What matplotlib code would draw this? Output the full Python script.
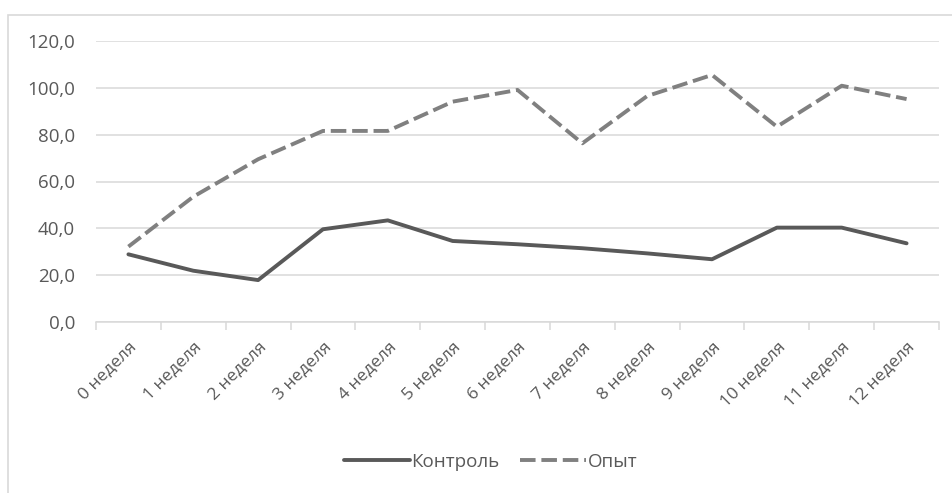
import matplotlib
matplotlib.use("Agg")
import matplotlib.pyplot as plt
from matplotlib.patches import Rectangle

plt.rcParams['font.family'] = ['Open Sans', 'DejaVu Sans']

weeks = [f"{i} неделя" for i in range(13)]
control = [28.9, 21.9, 17.9, 39.6, 43.4, 34.6, 33.2, 31.5, 29.3, 26.8, 40.3, 40.3, 33.6]
experiment = [32.2, 53.5, 69.5, 81.6, 81.6, 94.1, 99.1, 76.3, 96.5, 105.5, 83.4, 100.9, 95.2]
y_ticks = [0, 20, 40, 60, 80, 100, 120]

W, H = 953, 493
fig = plt.figure(figsize=(W / 100, H / 100), dpi=100)
ax = fig.add_axes([96 / W, 1 - 322 / H, (939 - 96) / W, (322 - 41) / H])

# chart frame (only left/top visible in the reference)
fig.patches.append(Rectangle((8.5 / W, -0.1), 1.2, 1 - 14.5 / H + 0.1,
                             transform=fig.transFigure, fill=False,
                             edgecolor="#d9d9d9", lw=1.2))

x = list(range(len(weeks)))
ax.plot(x, control, color="#595959", lw=2.8, solid_joinstyle="round",
        solid_capstyle="round", label="Контроль", zorder=3)
ax.plot(x, experiment, color="#808080", lw=2.8, dashes=(4, 1.5),
        dash_capstyle="butt", label="Опыт", zorder=3)

ax.set_xlim(-0.5, len(weeks) - 0.5)
ax.set_ylim(0, 120)
ax.set_yticks(y_ticks)
ax.set_yticklabels([f"{v:.1f}".replace(".", ",") for v in y_ticks])
ax.yaxis.grid(True, color="#d9d9d9", lw=1.1)
ax.set_axisbelow(True)
for s in ["left", "right", "top"]:
    ax.spines[s].set_visible(False)
ax.spines["bottom"].set_color("#d9d9d9")
ax.spines["bottom"].set_linewidth(1.1)

ax.set_xticks([i - 0.5 for i in range(len(weeks) + 1)], minor=False)
ax.set_xticklabels([])
ax.tick_params(axis="x", which="major", length=6, color="#d9d9d9", width=1.1)
ax.set_xticks(x, minor=True)
ax.set_xticklabels(weeks, minor=True, rotation=45, ha="right",
                   rotation_mode="anchor", fontsize=12.5, color="#595959")
ax.tick_params(axis="x", which="minor", length=0, pad=12)
ax.tick_params(axis="y", length=0, labelsize=13.5, labelcolor="#595959", pad=15)

leg = fig.legend(loc="center", bbox_to_anchor=(0.515, 0.063), ncol=2,
                 frameon=False, handlelength=3.5, handletextpad=0.1,
                 columnspacing=1.1, fontsize=13.5)
for t in leg.get_texts():
    t.set_color("#595959")

fig.savefig("out.png", dpi=100)
